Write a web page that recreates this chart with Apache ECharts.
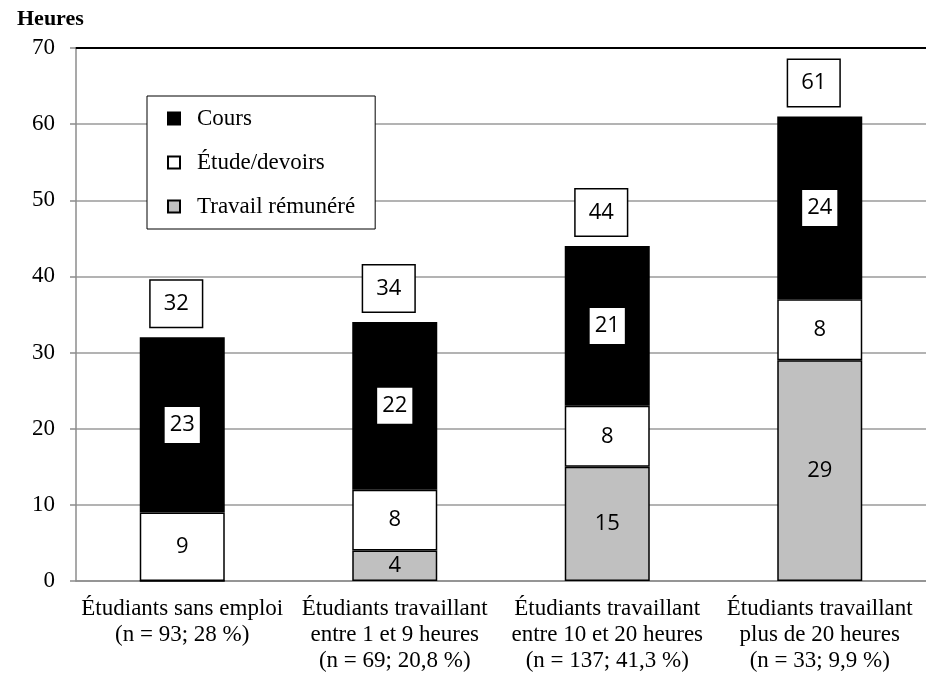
<!DOCTYPE html>
<html>
<head>
<meta charset="utf-8">
<script src="https://cdn.jsdelivr.net/npm/echarts@6/dist/echarts.min.js"></script>
<style>
  html, body { margin: 0; padding: 0; background: #fff; }
  #chart { width: 926px; height: 676px; }
</style>
</head>
<body>
<div id="chart"></div>
<script>
// données du graphique (heures par semaine)
var categories = [
    'Étudiants sans emploi\n(n = 93; 28 %)',
    'Étudiants travaillant\nentre 1 et 9 heures\n(n = 69; 20,8 %)',
    'Étudiants travaillant\nentre 10 et 20 heures\n(n = 137; 41,3 %)',
    'Étudiants travaillant\nplus de 20 heures\n(n = 33; 9,9 %)'
];
var travail = [0, 4, 15, 29];
var etude = [9, 8, 8, 8];
var cours = [23, 22, 21, 24];
var totaux = [32, 34, 44, 61];

var serif = 'Liberation Serif';
var sans = 'Open Sans';

function hideZero(p) {
    return p.value ? String(p.value) : '';
}

var chart = echarts.init(document.getElementById('chart'));
chart.setOption({
    animation: false,
    backgroundColor: '#fff',
    title: {
        text: 'Heures',
        left: 12,
        top: 3,
        textStyle: { fontFamily: serif, fontSize: 22, fontWeight: 'bold', color: '#000' }
    },
    legend: {
        data: ['Cours', 'Étude/devoirs', 'Travail rémunéré'],
        orient: 'vertical',
        left: 147,
        top: 96,
        padding: [11, 20, 11, 20],
        itemGap: 21,
        itemWidth: 12,
        itemHeight: 12,
        borderColor: '#000',
        borderWidth: 1,
        backgroundColor: '#fff',
        icon: 'rect',
        textStyle: { fontFamily: serif, fontSize: 23, color: '#000', padding: [0, 0, 0, 12] }
    },
    grid: { left: 76, top: 48, width: 861, bottom: 95 },
    xAxis: [{
        type: 'category',
        data: categories,
        axisLine: { lineStyle: { color: '#8c8c8c', width: 1.5 } },
        axisTick: { length: 6, lineStyle: { color: '#8c8c8c', width: 1.5 } },
        axisLabel: { interval: 0, fontFamily: serif, fontSize: 23, color: '#000', lineHeight: 26, margin: 15 }
    }, {
        type: 'category',
        position: 'top',
        data: categories,
        axisLine: { lineStyle: { color: '#000', width: 2 } },
        axisTick: { show: false },
        axisLabel: { show: false }
    }],
    yAxis: {
        type: 'value',
        min: 0,
        max: 70,
        interval: 10,
        axisLine: { show: true, lineStyle: { color: '#8c8c8c', width: 1.5 } },
        axisTick: { show: true, length: 6, lineStyle: { color: '#8c8c8c', width: 1.5 } },
        splitLine: { lineStyle: { color: '#9a9a9a', width: 1.5 } },
        axisLabel: { fontFamily: serif, fontSize: 23, color: '#000', margin: 21 }
    },
    series: [
        {
            name: 'Travail rémunéré',
            type: 'bar',
            stack: 'heures',
            barWidth: '40%',
            data: travail,
            itemStyle: { color: '#c0c0c0', borderColor: '#000', borderWidth: 1.5 },
            label: { show: true, position: 'inside', formatter: hideZero, fontFamily: sans, fontSize: 22, color: '#000' }
        },
        {
            name: 'Étude/devoirs',
            type: 'bar',
            stack: 'heures',
            data: etude,
            itemStyle: { color: '#fff', borderColor: '#000', borderWidth: 1.5 },
            label: { show: true, position: 'inside', formatter: hideZero, fontFamily: sans, fontSize: 22, color: '#000' }
        },
        {
            name: 'Cours',
            type: 'bar',
            stack: 'heures',
            data: cours,
            itemStyle: { color: '#000', borderColor: '#000', borderWidth: 1.5 },
            label: {
                show: true, position: 'inside', formatter: hideZero,
                fontFamily: sans, fontSize: 22, color: '#000', lineHeight: 24,
                backgroundColor: '#fff', padding: [6, 5]
            }
        },
        {
            name: 'Total',
            type: 'scatter',
            data: totaux,
            symbolSize: 1,
            itemStyle: { color: 'rgba(0,0,0,0)', opacity: 1 },
            label: {
                show: true, position: 'top', distance: 10, offset: [-6, 0],
                fontFamily: sans, fontSize: 22, color: '#000', lineHeight: 24,
                backgroundColor: '#fff', borderColor: '#000', borderWidth: 1.5,
                padding: [11, 13]
            }
        }
    ]
});
</script>
</body>
</html>
